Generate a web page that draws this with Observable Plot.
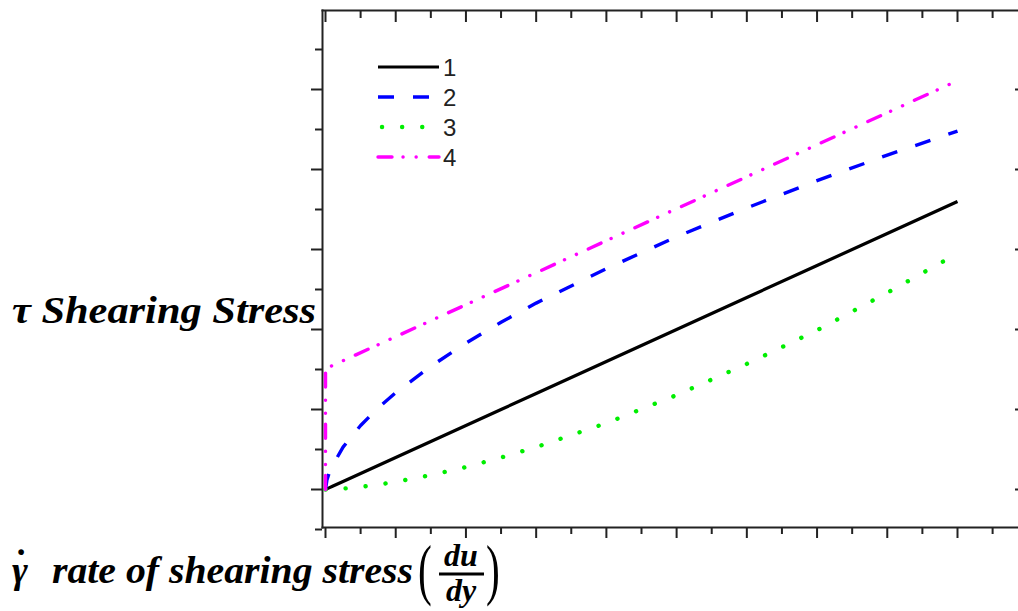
<!DOCTYPE html>
<html>
<head>
<meta charset="utf-8">
<script src="https://cdn.jsdelivr.net/npm/d3@7"></script>
<script src="https://cdn.jsdelivr.net/npm/@observablehq/plot@0.6"></script>
<style>
  html, body { margin: 0; padding: 0; background: #fff; }
  #chart { position: relative; width: 1018px; height: 611px; overflow: hidden; }
</style>
</head>
<body>
<div id="chart"></div>
<script>
// ---- data ----
const seriesNames = ["1", "2", "3", "4"];
const gammaDot = [0, 0.02, 0.05, 0.1, 0.25, 0.5, 0.75, 1, 1.5, 2, 2.5, 3, 4, 5, 6, 7, 8, 9];
const tau1 = [0, 0.008, 0.02, 0.04, 0.1, 0.2, 0.3, 0.4, 0.6, 0.8, 1.0, 1.2, 1.6, 2.0, 2.4, 2.8, 3.2, 3.6];
const tau2 = [0, 0.12, 0.20, 0.30, 0.53, 0.80, 1.02, 1.21, 1.54, 1.83, 2.09, 2.33, 2.76, 3.16, 3.52, 3.86, 4.18, 4.48];
const tau3 = [0, 0, 0.001, 0.003, 0.011, 0.032, 0.061, 0.096, 0.18, 0.28, 0.40, 0.53, 0.83, 1.18, 1.57, 1.99, 2.46, 2.95];
const gammaDot4 = [0, 0, 1, 2, 3, 4, 5, 6, 7, 8, 9];
const tau4 = [0, 1.51, 1.91, 2.31, 2.71, 3.11, 3.51, 3.91, 4.31, 4.71, 5.11];

const xMajorTicks = [0, 1, 2, 3, 4, 5, 6, 7, 8, 9];
const xMinorTicks = [0.5, 1.5, 2.5, 3.5, 4.5, 5.5, 6.5, 7.5, 8.5, 9.5];
const yMajorTicks = [0, 1, 2, 3, 4, 5];
const yMinorTicks = [-0.5, 0.5, 1.5, 2.5, 3.5, 4.5, 5.5];

const yLabel = "τ Shearing Stress";
const xSymbol = "γ";
const xSymbolDot = "˙";
const xLabel = "rate of shearing stress";
const fracTop = "du";
const fracBottom = "dy";

// ---- styles ----
const styles = [
  {stroke: "#000000", strokeWidth: 3.2, dash: null, cap: "butt", legendOffset: 0},
  {stroke: "#0000ff", strokeWidth: 3.4, dash: "16,19", cap: "butt", legendOffset: 0},
  {stroke: "#00ee00", strokeWidth: 4.4, dash: "0.1,20", cap: "round", legendOffset: -4},
  {stroke: "#ff00ff", strokeWidth: 3.4, dash: "14,11,0.1,13,0.1,13", cap: "round", legendOffset: 0}
];

const toRows = (xs, ys) => xs.map((x, i) => ({x, y: ys[i]}));
const rows = [toRows(gammaDot, tau1), toRows(gammaDot, tau2), toRows(gammaDot, tau3), toRows(gammaDot4, tau4)];

const axisColor = "#222";
const noLabel = () => "";

const svg = Plot.plot({
  width: 1018,
  height: 611,
  marginLeft: 322,
  marginTop: 10,
  marginRight: 0,
  marginBottom: 84,
  x: {domain: [0, 9], range: [325, 957], axis: null},
  y: {domain: [0, 6], range: [489, 9], axis: null},
  marks: [
    Plot.frame({anchor: "left", stroke: axisColor, strokeWidth: 2}),
    Plot.frame({anchor: "top", stroke: axisColor, strokeWidth: 2}),
    Plot.frame({anchor: "bottom", stroke: axisColor, strokeWidth: 2}),
    Plot.axisY({anchor: "left", ticks: yMajorTicks, tickSize: 11, tickFormat: noLabel, label: null, stroke: axisColor, strokeWidth: 2}),
    Plot.axisY({anchor: "left", ticks: yMinorTicks, tickSize: 7, tickFormat: noLabel, label: null, stroke: axisColor, strokeWidth: 2}),
    Plot.axisY({anchor: "right", ticks: yMajorTicks, tickSize: -4, tickFormat: noLabel, label: null, stroke: axisColor, strokeWidth: 2}),
    Plot.axisX({anchor: "bottom", ticks: xMajorTicks, tickSize: 11, tickFormat: noLabel, label: null, stroke: axisColor, strokeWidth: 2}),
    Plot.axisX({anchor: "bottom", ticks: xMinorTicks, tickSize: 7, tickFormat: noLabel, label: null, stroke: axisColor, strokeWidth: 2}),
    Plot.axisX({anchor: "top", ticks: xMajorTicks, tickSize: -11, tickFormat: noLabel, label: null, stroke: axisColor, strokeWidth: 2}),
    Plot.axisX({anchor: "top", ticks: xMinorTicks, tickSize: -7, tickFormat: noLabel, label: null, stroke: axisColor, strokeWidth: 2}),
    ...rows.map((r, i) => Plot.line(r, {
      x: "x", y: "y",
      stroke: styles[i].stroke,
      strokeWidth: styles[i].strokeWidth,
      strokeDasharray: styles[i].dash,
      strokeLinecap: styles[i].cap,
      strokeLinejoin: "round"
    }))
  ]
});

const root = d3.select(svg).style("background", "#fff");

// Legend
const legendX1 = 378, legendX2 = 439, legendY0 = 67, legendDy = 30;
const lg = root.append("g").attr("text-anchor", "start");
seriesNames.forEach((name, i) => {
  const y = legendY0 + i * legendDy;
  lg.append("line")
    .attr("x1", legendX1).attr("x2", legendX2).attr("y1", y).attr("y2", y)
    .attr("stroke", styles[i].stroke)
    .attr("stroke-width", styles[i].strokeWidth)
    .attr("stroke-dasharray", styles[i].dash)
    .attr("stroke-dashoffset", styles[i].legendOffset)
    .attr("stroke-linecap", styles[i].cap);
  lg.append("text")
    .attr("x", 443).attr("y", y + 9)
    .attr("text-anchor", "start")
    .attr("font-family", "Liberation Sans, Arial, sans-serif")
    .attr("font-size", 24)
    .attr("fill", "#222")
    .text(name);
});

// Axis labels
const serif = "Liberation Serif, 'Times New Roman', serif";
const labels = root.append("g").attr("text-anchor", "start");
labels.append("text")
  .attr("x", 12).attr("y", 323)
  .attr("text-anchor", "start")
  .attr("font-family", serif).attr("font-size", 38)
  .attr("font-weight", "bold").attr("font-style", "italic")
  .attr("textLength", 304).attr("lengthAdjust", "spacingAndGlyphs")
  .attr("fill", "#000")
  .text(yLabel);

// gamma with dot above, as one text element
const g = labels.append("text")
  .attr("x", 12).attr("y", 583)
  .attr("text-anchor", "start")
  .attr("font-family", serif).attr("font-size", 38)
  .attr("font-weight", "bold").attr("font-style", "italic")
  .attr("fill", "#000");
g.append("tspan").text(xSymbol);
g.append("tspan").attr("dx", -13).attr("dy", -7).attr("font-style", "normal").text(xSymbolDot);

labels.append("text")
  .attr("x", 52).attr("y", 583)
  .attr("text-anchor", "start")
  .attr("font-family", serif).attr("font-size", 38)
  .attr("font-weight", "bold").attr("font-style", "italic")
  .attr("textLength", 361).attr("lengthAdjust", "spacingAndGlyphs")
  .attr("fill", "#000")
  .text(xLabel);

// fraction (du/dy)
labels.append("text")
  .attr("transform", "translate(418,592) scale(0.9,1.45)")
  .attr("text-anchor", "start")
  .attr("font-family", serif).attr("font-size", 46)
  .attr("fill", "#000").text("(");
labels.append("text")
  .attr("transform", "translate(486,592) scale(0.9,1.45)")
  .attr("text-anchor", "start")
  .attr("font-family", serif).attr("font-size", 46)
  .attr("fill", "#000").text(")");
labels.append("text")
  .attr("x", 461).attr("y", 566).attr("text-anchor", "middle")
  .attr("font-family", serif).attr("font-size", 32)
  .attr("font-weight", "bold").attr("font-style", "italic")
  .attr("fill", "#000").text(fracTop);
labels.append("line")
  .attr("x1", 439).attr("x2", 484).attr("y1", 574).attr("y2", 574)
  .attr("stroke", "#000").attr("stroke-width", 3);
labels.append("text")
  .attr("x", 461).attr("y", 601).attr("text-anchor", "middle")
  .attr("font-family", serif).attr("font-size", 32)
  .attr("font-weight", "bold").attr("font-style", "italic")
  .attr("fill", "#000").text(fracBottom);

document.getElementById("chart").appendChild(svg);
</script>
</body>
</html>
